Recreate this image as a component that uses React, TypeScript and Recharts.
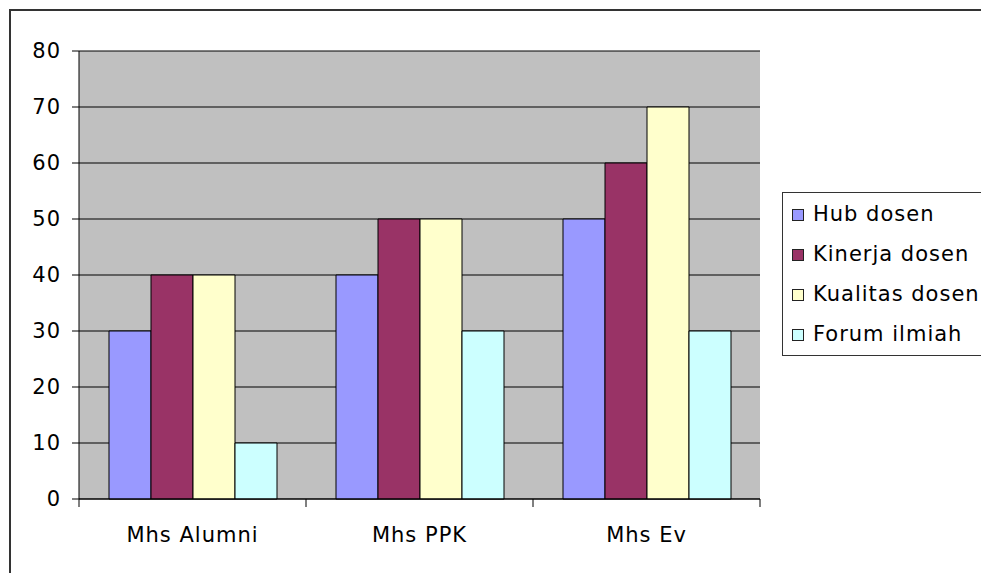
import React from "react";
import { BarChart, Bar, XAxis, YAxis, CartesianGrid } from "recharts";

const CATEGORIES = ["Mhs Alumni", "Mhs PPK", "Mhs Ev"];
const HUB_DOSEN = [30, 40, 50];
const KINERJA_DOSEN = [40, 50, 60];
const KUALITAS_DOSEN = [40, 50, 70];
const FORUM_ILMIAH = [10, 30, 30];
const Y_TICKS = [0, 10, 20, 30, 40, 50, 60, 70, 80];

const SERIES = [
  { key: "hub", name: "Hub dosen", values: HUB_DOSEN, color: "#9999FF" },
  { key: "kinerja", name: "Kinerja dosen", values: KINERJA_DOSEN, color: "#993366" },
  { key: "kualitas", name: "Kualitas dosen", values: KUALITAS_DOSEN, color: "#FFFFCC" },
  { key: "forum", name: "Forum ilmiah", values: FORUM_ILMIAH, color: "#CCFFFF" },
];

const data = CATEGORIES.map((c, i) => {
  const row: any = { name: c };
  SERIES.forEach((s) => (row[s.key] = s.values[i]));
  return row;
});

const FONT = "'DejaVu Sans', sans-serif";
const W = 965;
const H = 557;
const MARGIN = { top: 43, right: 213, bottom: 0, left: 0 };
const Y_WIDTH = 71;
const X_HEIGHT = 66;
const PLOT_W = W - MARGIN.left - MARGIN.right - Y_WIDTH;

const XTick = (props: any) => {
  const { x, y, payload, index } = props;
  const half = payload && payload.offset ? payload.offset : PLOT_W / CATEGORIES.length / 2;
  const last = index === CATEGORIES.length - 1;
  return (
    <g>
      <line x1={x - half} x2={x - half} y1={y} y2={y + 8} stroke="#000" />
      {last && <line x1={x + half} x2={x + half} y1={y} y2={y + 8} stroke="#000" />}
      <text
        x={x}
        y={y + 28}
        dy="0.71em"
        textAnchor="middle"
        fill="#000"
        style={{ fontFamily: FONT, fontSize: 21, letterSpacing: 1 }}
      >
        {payload.value}
      </text>
    </g>
  );
};

const LegendBox = () => (
  <div
    style={{
      position: "absolute",
      left: 782,
      top: 192,
      border: "1px solid #333",
      background: "#fff",
      width: 215,
      height: 164,
      boxSizing: "border-box",
      paddingTop: 1,
      paddingLeft: 9,
      fontFamily: FONT,
      fontSize: 21,
      letterSpacing: 1,
      color: "#000",
      whiteSpace: "nowrap",
    }}
  >
    {SERIES.map((s) => (
      <div key={s.key} style={{ lineHeight: "40px", height: 40 }}>
        <span
          style={{
            display: "inline-block",
            width: 12,
            height: 12,
            boxSizing: "border-box",
            border: "1px solid #222",
            background: s.color,
            marginRight: 9,
          }}
        />
        {s.name}
      </div>
    ))}
  </div>
);

export default function App() {
  return (
    <div style={{ width: W, height: H }}>
      <BarChart
        width={W}
        height={H}
        data={data}
        margin={MARGIN}
        barCategoryGap={30}
        barGap={0}
      >
        <CartesianGrid vertical={false} fill="#C0C0C0" stroke="#000" strokeOpacity={1} />
        <XAxis
          dataKey="name"
          height={X_HEIGHT}
          axisLine={{ stroke: "#000" }}
          tickLine={false}
          tickSize={0}
          tickMargin={0}
          tick={<XTick />}
          interval={0}
        />
        <YAxis
          width={Y_WIDTH}
          domain={[0, 80]}
          ticks={Y_TICKS}
          interval={0}
          axisLine={{ stroke: "#000" }}
          tickLine={{ stroke: "#000" }}
          tickSize={7}
          tickMargin={11}
          tick={{ fill: "#000", fontSize: 21, fontFamily: FONT, letterSpacing: 1 }}
        />
        <YAxis
          yAxisId="right"
          orientation="right"
          width={0}
          tick={false}
          tickLine={false}
          axisLine={{ stroke: "#808080" }}
        />
        {SERIES.map((s) => (
          <Bar
            key={s.key}
            dataKey={s.key}
            name={s.name}
            fill={s.color}
            stroke="#000"
            strokeWidth={1}
            isAnimationActive={false}
          />
        ))}
      </BarChart>
      <div
        style={{
          position: "fixed",
          left: 0,
          top: 0,
          width: "100vw",
          height: "100vh",
          overflow: "hidden",
          pointerEvents: "none",
        }}
      >
        <div
          style={{
            position: "absolute",
            left: 9,
            top: 9,
            width: 2000,
            height: 2000,
            borderTop: "2px solid #333",
            borderLeft: "2px solid #333",
          }}
        />
        <LegendBox />
      </div>
    </div>
  );
}
